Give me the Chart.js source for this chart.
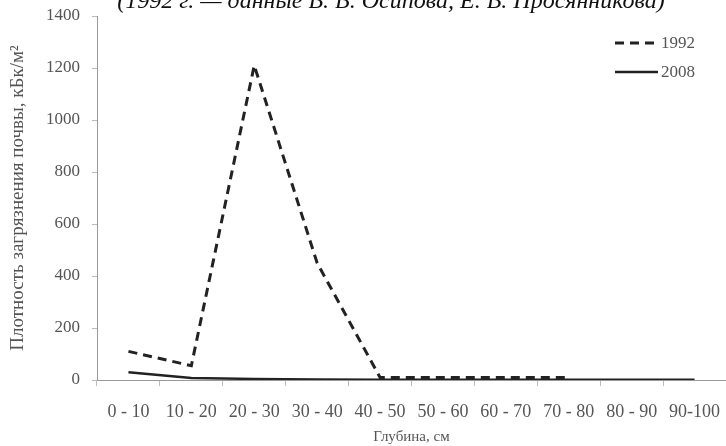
<!DOCTYPE html>
<html>
<head>
<meta charset="utf-8">
<script src="https://cdn.jsdelivr.net/npm/chart.js@4.4.1/dist/chart.umd.min.js"></script>
<style>
  html, body { margin: 0; padding: 0; background: #fff; }
  #wrap { width: 726px; height: 446px; position: relative; }
</style>
</head>
<body>
<div id="wrap"><canvas id="chart"></canvas></div>
<script>
const depthLabels = ["0 - 10", "10 - 20", "20 - 30", "30 - 40", "40 - 50", "50 - 60", "60 - 70", "70 - 80", "80 - 90", "90-100"];
const values1992 = [110, 55, 1210, 450, 10, 10, 10, 10, null, null];
const values2008 = [30, 8, 4, 2, 1, 1, 1, 1, 1, 1];
const seriesNames = ["1992", "2008"];

const serif = "'Liberation Serif', 'DejaVu Serif', serif";

// title is clipped at the top of the picture, as in the original figure
const clippedTitle = {
    id: "clippedTitle",
    afterDraw(chart) {
        const ctx = chart.ctx;
        ctx.save();
        ctx.font = "italic 24px " + serif;
        ctx.fillStyle = "#111";
        ctx.textAlign = "center";
        ctx.textBaseline = "alphabetic";
        ctx.fillText("(1992 г. — данные В. В. Осипова, Е. В. Просянникова)", 391, 8);
        ctx.restore();
    }
};

// small legend in the upper right corner
const cornerLegend = {
    id: "cornerLegend",
    afterDraw(chart) {
        const ctx = chart.ctx;
        ctx.save();
        chart.data.datasets.forEach((ds, i) => {
            const y = 43 + i * 29;
            ctx.strokeStyle = ds.borderColor;
            ctx.lineWidth = ds.borderWidth;
            ctx.setLineDash(ds.borderDash || []);
            ctx.beginPath();
            ctx.moveTo(615, y);
            ctx.lineTo(658, y);
            ctx.stroke();
            ctx.setLineDash([]);
            ctx.font = "17px " + serif;
            ctx.fillStyle = "#555";
            ctx.textBaseline = "middle";
            ctx.fillText(ds.label, 661, y + 1);
        });
        ctx.restore();
    }
};

const ctx = document.getElementById("chart").getContext("2d");
new Chart(ctx, {
    type: "line",
    data: {
        labels: depthLabels,
        datasets: [
            {
                label: seriesNames[0],
                data: values1992,
                borderColor: "#222",
                borderWidth: 3,
                borderDash: [9, 6],
                pointRadius: 0,
                tension: 0,
                fill: false
            },
            {
                label: seriesNames[1],
                data: values2008,
                borderColor: "#222",
                borderWidth: 2.5,
                pointRadius: 0,
                tension: 0,
                fill: false
            }
        ]
    },
    options: {
        responsive: true,
        maintainAspectRatio: false,
        animation: false,
        layout: { padding: { top: 16, right: 0, left: 0, bottom: 0 } },
        plugins: {
            legend: { display: false },
            tooltip: { enabled: false }
        },
        scales: {
            x: {
                offset: true,
                afterFit(scale) {
                    scale.height = 66;
                    scale.paddingLeft = 0;
                    scale.paddingRight = 0;
                },
                border: { color: "#999", width: 1 },
                grid: { drawOnChartArea: false, drawTicks: true, tickLength: 6, color: "#bbb", offset: true },
                ticks: { color: "#555", font: { family: serif, size: 18 }, padding: 15, maxRotation: 0, autoSkip: false },
                title: { display: true, text: "Глубина, см", color: "#555", font: { family: serif, size: 15 }, padding: { top: 4, bottom: 0 } }
            },
            y: {
                min: 0,
                max: 1400,
                afterFit(scale) {
                    scale.width = 97;
                    scale.paddingTop = 0;
                    scale.paddingBottom = 0;
                },
                border: { color: "#999", width: 1 },
                grid: { drawOnChartArea: false, drawTicks: true, tickLength: 5, color: "#bbb" },
                ticks: { stepSize: 200, color: "#555", font: { family: serif, size: 17 }, padding: 12, callback: v => String(v) },
                title: { display: true, text: "Плотность загрязнения почвы, кБк/м²", color: "#555", font: { family: serif, size: 19 }, padding: { top: 7, bottom: 0 } }
            }
        }
    },
    plugins: [clippedTitle, cornerLegend]
});
</script>
</body>
</html>
